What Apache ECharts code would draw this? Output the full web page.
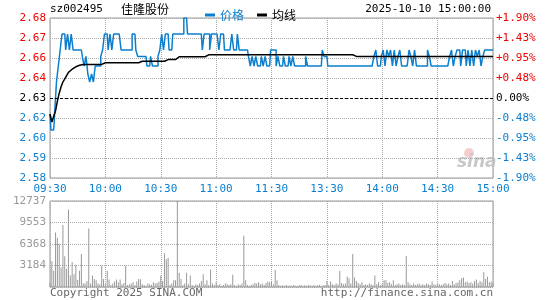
<!DOCTYPE html>
<html>
<head>
<meta charset="utf-8">
<script src="https://cdn.jsdelivr.net/npm/echarts@6/dist/echarts.min.js"></script>
<style>
html, body { margin: 0; padding: 0; background: #fff; }
#chart { width: 545px; height: 300px; }
</style>
</head>
<body>
<div id="chart"></div>
<script>
var stockCode = 'sz002495';
var stockName = '佳隆股份';
var stamp = '2025-10-10 15:00:00';
var prevClose = 2.63;

var timeTicks = ['09:30', '10:00', '10:30', '11:00', '11:30', '13:30', '14:00', '14:30', '15:00'];
var priceTicks = ['2.58', '2.59', '2.60', '2.62', '2.63', '2.64', '2.66', '2.67', '2.68'];
var pctTicks = ['-1.90%', '-1.43%', '-0.95%', '-0.48%', '0.00%', '+0.48%', '+0.95%', '+1.43%', '+1.90%'];
var volTicks = ['', '3184', '6368', '9553', '12737'];

// minute price, 09:30-11:30 then 13:01-15:00
var price = [
  2.62, 2.61, 2.61, 2.62, 2.64, 2.65, 2.66, 2.67, 2.67, 2.66,
  2.67, 2.66, 2.67, 2.66, 2.66, 2.66, 2.66, 2.66, 2.656, 2.65,
  2.656, 2.645, 2.64, 2.645, 2.64, 2.65, 2.65, 2.65, 2.656, 2.66,
  2.67, 2.67, 2.66, 2.67, 2.66, 2.67, 2.67, 2.67, 2.67, 2.66,
  2.66, 2.66, 2.66, 2.66, 2.66, 2.67, 2.67, 2.66, 2.656, 2.656,
  2.656, 2.656, 2.656, 2.65, 2.65, 2.656, 2.65, 2.65, 2.65, 2.656,
  2.66, 2.67, 2.66, 2.67, 2.67, 2.66, 2.66, 2.67, 2.67, 2.67,
  2.67, 2.67, 2.67, 2.68, 2.68, 2.67, 2.67, 2.67, 2.67, 2.67,
  2.67, 2.67, 2.67, 2.66, 2.67, 2.67, 2.67, 2.66, 2.67, 2.67,
  2.67, 2.67, 2.66, 2.67, 2.67, 2.66, 2.66, 2.66, 2.66, 2.67,
  2.66, 2.66, 2.67, 2.66, 2.66, 2.66, 2.66, 2.66, 2.656, 2.65,
  2.656, 2.65, 2.656, 2.65, 2.65, 2.656, 2.65, 2.656, 2.65, 2.65,
  2.66, 2.66, 2.66, 2.65, 2.656, 2.65, 2.65, 2.656, 2.65, 2.65,
  2.656, 2.65, 2.656, 2.65, 2.65, 2.65, 2.65, 2.65, 2.65, 2.656,
  2.65, 2.65, 2.65, 2.65, 2.65, 2.65, 2.65, 2.65, 2.66, 2.656,
  2.656, 2.65, 2.65, 2.65, 2.65, 2.65, 2.65, 2.65, 2.65, 2.65,
  2.65, 2.65, 2.65, 2.65, 2.65, 2.65, 2.65, 2.65, 2.65, 2.65,
  2.65, 2.65, 2.65, 2.65, 2.65, 2.65, 2.656, 2.66, 2.65, 2.65,
  2.656, 2.66, 2.65, 2.66, 2.656, 2.66, 2.65, 2.66, 2.65, 2.656,
  2.66, 2.65, 2.65, 2.65, 2.65, 2.66, 2.656, 2.65, 2.66, 2.65,
  2.65, 2.65, 2.65, 2.65, 2.65, 2.66, 2.656, 2.65, 2.65, 2.65,
  2.65, 2.65, 2.65, 2.65, 2.65, 2.65, 2.65, 2.656, 2.66, 2.65,
  2.656, 2.66, 2.66, 2.65, 2.66, 2.66, 2.65, 2.66, 2.65, 2.66,
  2.65, 2.66, 2.656, 2.66, 2.65, 2.656, 2.66, 2.66, 2.66, 2.66,
  2.66
];

var avgPrice = [
  2.620, 2.615, 2.616, 2.622, 2.628, 2.633, 2.637, 2.640, 2.642, 2.644,
  2.646, 2.647, 2.648, 2.649, 2.6495, 2.650, 2.6505, 2.651, 2.651, 2.651,
  2.651, 2.651, 2.651, 2.651, 2.651, 2.651, 2.651, 2.651, 2.651, 2.651,
  2.652, 2.652, 2.652, 2.652, 2.652, 2.652, 2.652, 2.652, 2.652, 2.652,
  2.652, 2.652, 2.652, 2.652, 2.652, 2.652, 2.652, 2.652, 2.652, 2.653,
  2.653, 2.653, 2.653, 2.653, 2.653, 2.653, 2.653, 2.653, 2.653, 2.653,
  2.653, 2.653, 2.653, 2.654, 2.654, 2.654, 2.654, 2.654, 2.654, 2.654,
  2.6558, 2.6558, 2.6558, 2.6558, 2.6558, 2.6558, 2.6558, 2.6558, 2.6558, 2.6558,
  2.6558, 2.6558, 2.6558, 2.6558, 2.6558, 2.6558, 2.657, 2.657, 2.657, 2.657,
  2.657, 2.657, 2.657, 2.657, 2.657, 2.657, 2.657, 2.657, 2.657, 2.657,
  2.657, 2.657, 2.657, 2.657, 2.657, 2.657, 2.657, 2.657, 2.657, 2.657,
  2.657, 2.657, 2.657, 2.657, 2.657, 2.657, 2.657, 2.657, 2.657, 2.657,
  2.657, 2.657, 2.657, 2.657, 2.657, 2.657, 2.657, 2.657, 2.657, 2.657,
  2.657, 2.657, 2.657, 2.657, 2.657, 2.657, 2.657, 2.657, 2.657, 2.657,
  2.657, 2.657, 2.657, 2.657, 2.657, 2.657, 2.657, 2.657, 2.657, 2.657,
  2.657, 2.657, 2.657, 2.657, 2.657, 2.657, 2.657, 2.657, 2.657, 2.657,
  2.657, 2.657, 2.657, 2.657, 2.657, 2.657, 2.656, 2.656, 2.656, 2.656,
  2.656, 2.656, 2.656, 2.656, 2.656, 2.656, 2.656, 2.656, 2.656, 2.656,
  2.656, 2.656, 2.656, 2.656, 2.656, 2.656, 2.656, 2.656, 2.656, 2.656,
  2.656, 2.656, 2.656, 2.656, 2.656, 2.656, 2.656, 2.656, 2.656, 2.656,
  2.656, 2.656, 2.656, 2.656, 2.656, 2.656, 2.656, 2.656, 2.656, 2.656,
  2.656, 2.656, 2.656, 2.656, 2.656, 2.656, 2.656, 2.656, 2.656, 2.656,
  2.656, 2.656, 2.656, 2.656, 2.656, 2.656, 2.656, 2.656, 2.656, 2.656,
  2.656, 2.656, 2.656, 2.656, 2.656, 2.656, 2.656, 2.656, 2.656, 2.656,
  2.656
];

var volume = [
  600, 3800, 2400, 8070, 7300, 6400, 2900, 9200, 4550, 2700,
  11480, 1700, 3700, 1900, 3300, 1050, 2400, 4900, 550, 500,
  900, 8670, 500, 1700, 1200, 1000, 500, 400, 3200, 1200,
  400, 2400, 1100, 300, 500, 800, 1100, 700, 1100, 400,
  600, 3200, 300, 400, 500, 700, 300, 800, 1200, 1100,
  400, 300, 200, 500, 400, 300, 700, 500, 600, 800,
  1700, 900, 5000, 4100, 4300, 300, 500, 1000, 1000, 12737,
  2100, 1200, 300, 500, 2100, 400, 1700, 300, 200, 400,
  300, 500, 900, 1900, 400, 1000, 300, 2600, 500, 300,
  700, 300, 400, 200, 300, 500, 400, 300, 400, 1800,
  300, 200, 400, 300, 500, 7600, 1000, 300, 200, 300,
  400, 600, 500, 700, 400, 500, 300, 600, 800, 700,
  900, 400, 2500, 1000, 300, 200, 250, 200, 300, 200,
  250, 200, 300, 200, 200, 250, 300, 200, 250, 200,
  300, 250, 200, 300, 200, 250, 300, 200, 250, 300,
  900, 300, 800, 400, 300, 500, 400, 2400, 600, 400,
  500, 1500, 1300, 500, 4900, 1400, 900, 600, 400, 700,
  300, 400, 300, 500, 400, 300, 1700, 400, 700, 300,
  400, 1000, 1000, 600, 700, 400, 1000, 300, 400, 500,
  300, 400, 300, 4600, 700, 400, 300, 500, 300, 400,
  500, 300, 400, 300, 500, 400, 300, 800, 400, 300,
  500, 400, 300, 400, 600, 400, 500, 300, 900, 400,
  600, 700, 1000, 1300, 1400, 700, 800, 600, 700, 500,
  900, 1100, 600, 900, 700, 2200, 1200, 1500, 700, 800,
  600
];

// trading minutes
var minutes = [];
function addSession(from, to) {
  for (var t = from; t <= to; t++) {
    var h = Math.floor(t / 60), m = t % 60;
    minutes.push((h < 10 ? '0' : '') + h + ':' + (m < 10 ? '0' : '') + m);
  }
}
addSession(9 * 60 + 30, 11 * 60 + 30);
addSession(13 * 60 + 1, 15 * 60);

var blue = '#0a7fcf';
var red = '#f00000';
var mono = '"DejaVu Sans Mono", monospace';
var cjk = '"Noto Sans CJK SC", sans-serif';
var dotted = { type: 'dotted', color: '#aaa', width: 1 };

function isTick(idx, val) { return timeTicks.indexOf(val) >= 0; }
function priceIdx(v) { return Math.round((v - 2.58) / 0.0125); }
function pctIdx(v) { return Math.round((v + 1.9) / 0.475); }
function sideColor(i) { return i > 4 ? red : (i < 4 ? blue : '#000'); }

var myChart = echarts.init(document.getElementById('chart'));
var option = {
  animation: false,
  backgroundColor: '#fff',
  legend: {
    left: 200, top: 4,
    icon: 'rect', itemWidth: 10, itemHeight: 3, itemGap: 13,
    textStyle: { fontFamily: cjk, fontSize: 12 },
    data: [
      { name: '价格', textStyle: { color: blue } },
      { name: '均线', textStyle: { color: '#000' } }
    ]
  },
  grid: [
    { left: 50, right: 52, top: 18, height: 160, show: true, borderColor: '#999', borderWidth: 1 },
    { left: 50, right: 52, top: 201, height: 86, show: true, borderColor: '#999', borderWidth: 1 }
  ],
  xAxis: [
    {
      type: 'category', gridIndex: 0, data: minutes, boundaryGap: false,
      axisLine: { show: false }, axisTick: { show: false },
      axisLabel: { interval: isTick, color: blue, fontFamily: mono, fontSize: 11, margin: 6 },
      splitLine: { show: true, interval: isTick, lineStyle: dotted }
    },
    {
      type: 'category', gridIndex: 1, data: minutes, boundaryGap: false,
      axisLine: { show: false }, axisTick: { show: false }, axisLabel: { show: false },
      splitLine: { show: true, interval: isTick, lineStyle: dotted }
    }
  ],
  yAxis: [
    {
      type: 'value', gridIndex: 0, min: 2.58, max: 2.68, interval: 0.0125,
      axisLine: { show: false }, axisTick: { show: false },
      axisLabel: {
        margin: 4, fontFamily: mono, fontSize: 11,
        formatter: function (v) { return priceTicks[priceIdx(v)]; },
        color: function (v) { return sideColor(priceIdx(parseFloat(v))); }
      },
      splitLine: { show: true, lineStyle: dotted }
    },
    {
      type: 'value', gridIndex: 0, position: 'right', min: -1.9, max: 1.9, interval: 0.475,
      axisLine: { show: false }, axisTick: { show: false }, splitLine: { show: false },
      axisLabel: {
        margin: 3, fontFamily: mono, fontSize: 11,
        formatter: function (v) { return pctTicks[pctIdx(v)]; },
        color: function (v) { return sideColor(pctIdx(parseFloat(v))); }
      }
    },
    {
      type: 'value', gridIndex: 1, min: 0, max: 12737, interval: 3184.25,
      axisLine: { show: false }, axisTick: { show: false },
      axisLabel: {
        margin: 4, color: '#999', fontFamily: mono, fontSize: 11,
        formatter: function (v) { return volTicks[Math.round(v / 3184.25)]; }
      },
      splitLine: { show: true, lineStyle: dotted }
    }
  ],
  graphic: [
    { type: 'text', left: 50, top: 4, style: { text: stockCode, font: '11px ' + mono, fill: '#000' } },
    { type: 'text', left: 121, top: 3, style: { text: stockName, font: '12px ' + cjk, fill: '#000' } },
    { type: 'text', right: 54, top: 4, style: { text: stamp, font: '11px ' + mono, fill: '#000' } },
    { type: 'text', left: 50, top: 288, style: { text: 'Copyright 2025 SINA.COM', font: '11px ' + mono, fill: '#666' } },
    { type: 'text', right: 52, top: 288, style: { text: 'http://finance.sina.com.cn', font: '11px ' + mono, fill: '#666' } },
    { type: 'circle', shape: { cx: 469, cy: 153, r: 5 }, style: { fill: '#f2b8b8', opacity: 0.7 } },
    { type: 'text', left: 457, top: 154, style: { text: 'sina', font: 'italic bold 17px "DejaVu Sans", sans-serif', fill: '#c8c8c8' } }
  ],
  series: [
    {
      name: '价格', type: 'line', xAxisIndex: 0, yAxisIndex: 0, data: price, step: 'middle',
      symbol: 'none', itemStyle: { color: blue }, lineStyle: { color: blue, width: 1.5 }, z: 2,
      markLine: {
        silent: true, symbol: 'none', label: { show: false },
        lineStyle: { color: '#000', type: [3, 2], width: 1 },
        data: [{ yAxis: prevClose }]
      }
    },
    {
      name: '均线', type: 'line', xAxisIndex: 0, yAxisIndex: 0, data: avgPrice,
      symbol: 'none', itemStyle: { color: '#000' }, lineStyle: { color: '#000', width: 1.5 }, z: 3
    },
    {
      name: '成交量', type: 'bar', xAxisIndex: 1, yAxisIndex: 2, data: volume,
      barWidth: 1, itemStyle: { color: '#999' }
    }
  ]
};
myChart.setOption(option);
</script>
</body>
</html>
